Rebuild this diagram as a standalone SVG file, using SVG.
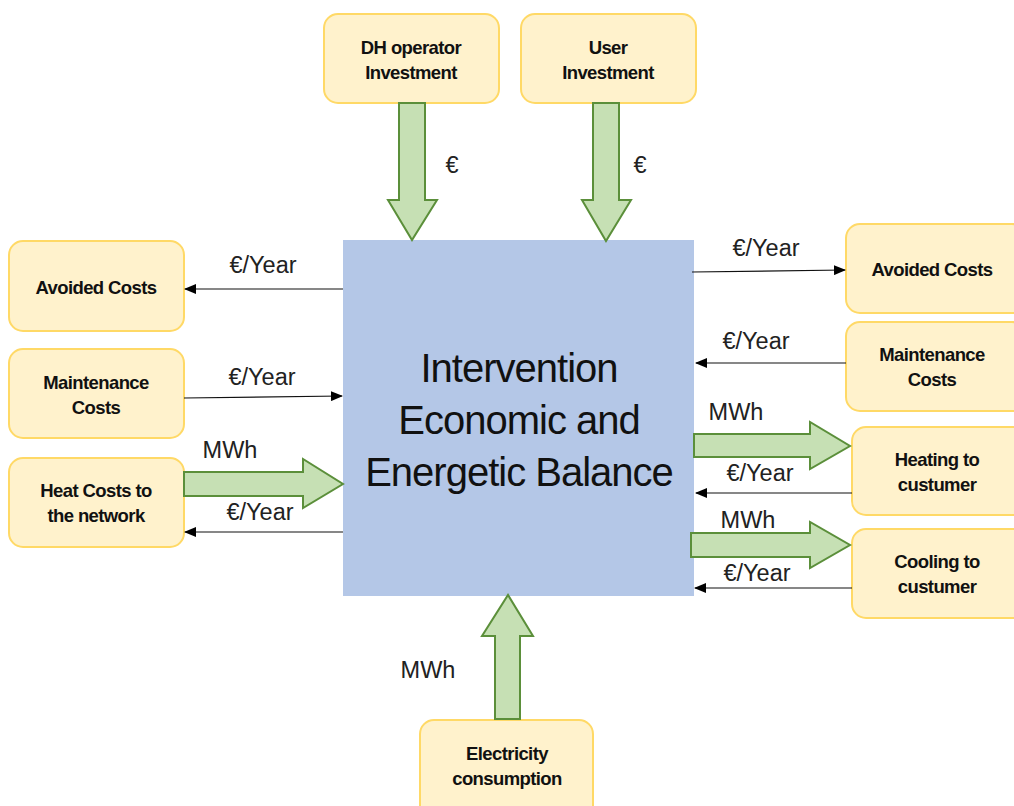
<svg xmlns="http://www.w3.org/2000/svg" width="1014" height="806" viewBox="0 0 1014 806">
<style>
.box{fill:#fff2cc;stroke:#ffd966;stroke-width:2}
.lbl{font-family:"Liberation Sans",Arial,sans-serif;font-weight:bold;font-size:18.5px;letter-spacing:-0.6px;fill:#111;text-anchor:middle}
.el{font-family:"Liberation Sans",Arial,sans-serif;font-size:23.5px;fill:#222;text-anchor:middle}
.big{font-family:"Liberation Sans",Arial,sans-serif;font-size:40px;fill:#111;text-anchor:middle;letter-spacing:-1px}
.fat{fill:#c6e0b4;stroke:#5b8f3a;stroke-width:2;stroke-linejoin:miter}
.ln{stroke:#111;stroke-width:1.2;fill:none;marker-end:url(#ah)}
</style>
<defs>
<marker id="ah" markerWidth="12" markerHeight="10" refX="11" refY="5" orient="auto" markerUnits="userSpaceOnUse">
<path d="M0,0 L12,5 L0,10 Z" fill="#000"/>
</marker>
</defs>
<rect width="1014" height="806" fill="#fff"/>

<g id="main">
<rect x="343" y="240" width="351" height="356" fill="#b4c7e7"/>
<text class="big" x="519" y="382">Intervention</text>
<text class="big" x="519" y="434">Economic and</text>
<text class="big" x="519" y="486">Energetic Balance</text>
</g>

<g id="dh-investment">
<rect class="box" x="324" y="14" width="175" height="89" rx="14"/>
<text class="lbl" x="411" y="54">DH operator</text>
<text class="lbl" x="411" y="79">Investment</text>
</g>
<g id="user-investment">
<rect class="box" x="521" y="14" width="175" height="89" rx="14"/>
<text class="lbl" x="608" y="54">User</text>
<text class="lbl" x="608" y="79">Investment</text>
</g>
<g id="avoided-left">
<rect class="box" x="9" y="241" width="175" height="90" rx="14"/>
<text class="lbl" x="96" y="294">Avoided Costs</text>
</g>
<g id="maintenance-left">
<rect class="box" x="9" y="349" width="175" height="89" rx="14"/>
<text class="lbl" x="96" y="389">Maintenance</text>
<text class="lbl" x="96" y="414">Costs</text>
</g>
<g id="heat-costs">
<rect class="box" x="9" y="458" width="175" height="89" rx="14"/>
<text class="lbl" x="96" y="497">Heat Costs to</text>
<text class="lbl" x="96" y="522">the network</text>
</g>
<g id="avoided-right">
<rect class="box" x="846" y="224" width="180" height="89" rx="14"/>
<text class="lbl" x="932" y="276">Avoided Costs</text>
</g>
<g id="maintenance-right">
<rect class="box" x="846" y="322" width="180" height="89" rx="14"/>
<text class="lbl" x="932" y="361">Maintenance</text>
<text class="lbl" x="932" y="386">Costs</text>
</g>
<g id="heating">
<rect class="box" x="852" y="427" width="175" height="88" rx="14"/>
<text class="lbl" x="937" y="466">Heating to</text>
<text class="lbl" x="937" y="491">custumer</text>
</g>
<g id="cooling">
<rect class="box" x="852" y="529" width="175" height="89" rx="14"/>
<text class="lbl" x="937" y="568">Cooling to</text>
<text class="lbl" x="937" y="593">custumer</text>
</g>
<g id="electricity">
<rect class="box" x="420" y="720" width="173" height="100" rx="14"/>
<text class="lbl" x="507" y="760">Electricity</text>
<text class="lbl" x="507" y="785">consumption</text>
</g>

<g id="connectors">
<path class="fat" d="M399,103 H425 V200 H437 L412,240 L388,200 H399 Z"/>
<path class="fat" d="M593,103 H619 V200 H631 L606,241 L582,200 H593 Z"/>
<path class="fat" d="M495,719 V636 H482 L508,595 L533,636 H520 V719 Z"/>
<path class="fat" d="M184,472 H303 V459 L343,484 L303,508 V496 H184 Z"/>
<path class="fat" d="M694,434 H810 V422 L850,446 L810,469 V457 H694 Z"/>
<path class="fat" d="M691,533 H810 V522 L850,545 L810,568 V557 H691 Z"/>

<line class="ln" x1="343" y1="289" x2="185" y2="289"/>
<line class="ln" x1="184" y1="398" x2="342" y2="396"/>
<line class="ln" x1="343" y1="532" x2="185" y2="532"/>
<line class="ln" x1="692" y1="272" x2="845" y2="270"/>
<line class="ln" x1="846" y1="363" x2="696" y2="363"/>
<line class="ln" x1="852" y1="493" x2="696" y2="493"/>
<line class="ln" x1="852" y1="588" x2="695" y2="588"/>

<text class="el" x="452" y="173">€</text>
<text class="el" x="640" y="173">€</text>
<text class="el" x="263" y="273">€/Year</text>
<text class="el" x="262" y="385">€/Year</text>
<text class="el" x="230" y="458">MWh</text>
<text class="el" x="260" y="520">€/Year</text>
<text class="el" x="766" y="256">€/Year</text>
<text class="el" x="756" y="349">€/Year</text>
<text class="el" x="736" y="420">MWh</text>
<text class="el" x="760" y="481">€/Year</text>
<text class="el" x="748" y="528">MWh</text>
<text class="el" x="757" y="581">€/Year</text>
<text class="el" x="428" y="678">MWh</text>
</g>
</svg>
